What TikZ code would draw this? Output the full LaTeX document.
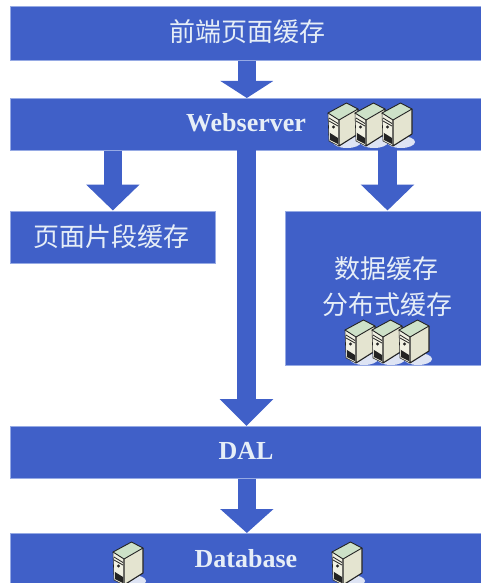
\documentclass[tikz,border=0pt]{standalone}
\usepackage{fontspec}
\setmainfont{Liberation Serif}
\newfontfamily\cjk{Noto Sans CJK SC}
\usetikzlibrary{arrows.meta}
\definecolor{boxblue}{RGB}{64,96,200}
\definecolor{boxedge}{RGB}{150,170,228}
\definecolor{paletext}{RGB}{230,238,247}
\definecolor{srvside}{RGB}{228,228,208}
\definecolor{srvfront}{RGB}{240,240,226}
\definecolor{srvtop}{RGB}{205,225,200}
\definecolor{srvbase}{RGB}{222,228,244}
\definecolor{srvline}{RGB}{35,35,35}
\tikzset{
  blockbox/.style={fill=boxblue,draw=boxedge,line width=0.7pt,inner sep=0pt,anchor=north west,text=paletext},
  cjklabel/.style={font=\cjk\fontsize{26}{30}\selectfont,text=paletext,inner sep=0pt},
  latinlabel/.style={font=\bfseries\fontsize{26}{30}\selectfont,text=paletext,inner sep=0pt},
  bigarrow/.style={draw=boxblue,line width=18.5pt,-{Triangle[width=52pt,length=#1,color=boxblue]}},
  bigarrow/.default=26pt,
  server/.pic={
    \fill[srvbase] (19,29) ellipse [x radius=14pt,y radius=6pt];
    \fill[srvtop] (0,0) -- (18.5,-10) -- (30,-4) -- (11,7) -- cycle;
    \fill[srvside] (11,7) -- (30,-4) -- (30,21) -- (11,33) -- cycle;
    \fill[srvfront] (0,0) -- (11,7) -- (11,33) -- (1,28) -- cycle;
    \fill[srvline] (2,20) -- (10,25) -- (10,31) -- (2,27) -- cycle;
    \fill[srvline] (5.5,14) circle [radius=1.6pt];
    \draw[srvline,line width=0.8pt] (1,5) -- (10,10.5) (1,8) -- (10,13);
    \draw[srvline,line width=0.9pt,line join=round] (0,0) -- (18.5,-10) -- (30,-4) -- (11,7) -- cycle;
    \draw[srvline,line width=1.1pt,line join=round] (30,-4) -- (30,21) -- (11,33) -- (11,7);
    \draw[srvline,line width=0.6pt] (0,0) -- (1,28) -- (11,33);
  }
}
\begin{document}
\begin{tikzpicture}[x=1pt,y=-1pt]
\useasboundingbox (0,0) rectangle (481,583);
\fill[white] (0,0) rectangle (481,583);

\node[blockbox,minimum width=471pt,minimum height=54pt] (front) at (10,6) {};
\node[blockbox,minimum width=471pt,minimum height=52pt] (web) at (10,98) {};
\node[blockbox,minimum width=205pt,minimum height=52pt] (frag) at (10,210.5) {};
\node[blockbox,minimum width=196pt,minimum height=154.5pt] (data) at (285,210.5) {};
\node[blockbox,minimum width=471pt,minimum height=52pt] (dal) at (10,426) {};
\node[blockbox,minimum width=471pt,minimum height=50pt] (db) at (10,533) {};

\node[cjklabel] (frontlabel) at (247,32) {前端页面缓存};
\node[latinlabel] (weblabel) at (246,123) {Webserver};
\node[cjklabel] (fraglabel) at (111,237) {页面片段缓存};
\node[cjklabel] (datalabela) at (386,269) {数据缓存};
\node[cjklabel] (datalabelb) at (387,305) {分布式缓存};
\node[latinlabel] (dallabel) at (246,451) {DAL};
\node[latinlabel] (dblabel) at (246,559) {Database};

\coordinate (fragin) at (frag.north |- web.south);
\coordinate (datain) at (387.5,150);
\coordinate (midin) at (246.5,150);

\draw[bigarrow=17pt] ([xshift=1pt]front.south) -- ([xshift=1pt]web.north);
\draw[bigarrow] (fragin) -- (frag.north);
\draw[bigarrow] (datain) -- (datain |- data.north);
\draw[bigarrow=27pt] (midin) -- (midin |- dal.north);
\draw[bigarrow=24pt] ([xshift=1pt]dal.south) -- ([xshift=1pt]db.north);

\pic at (328,113) {server};
\pic at (355,113) {server};
\pic at (382,113) {server};
\pic at (345,330) {server};
\pic at (372,330) {server};
\pic at (399,330) {server};
\pic at (113,552) {server};
\pic at (332,552) {server};
\end{tikzpicture}
\end{document}
